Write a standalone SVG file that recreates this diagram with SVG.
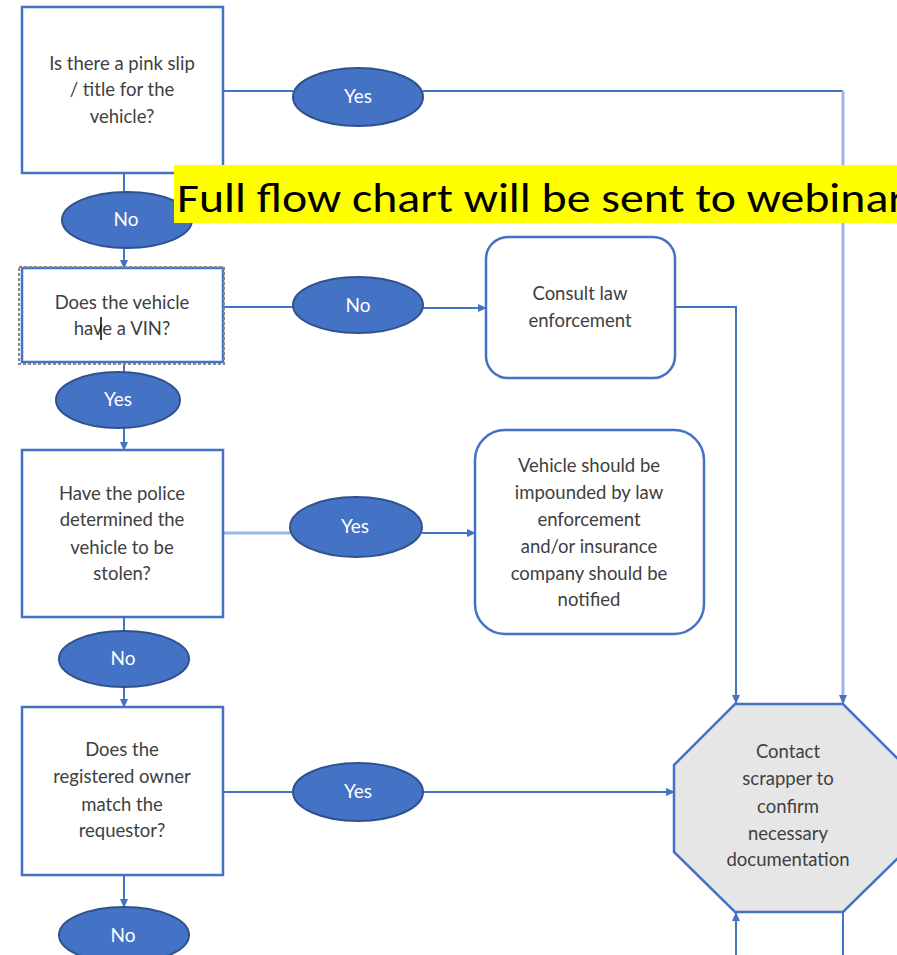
<svg xmlns="http://www.w3.org/2000/svg" width="897" height="955" viewBox="0 0 897 955">
<defs>
<marker id="arr" markerUnits="userSpaceOnUse" markerWidth="9" markerHeight="8" refX="8" refY="4" orient="auto">
<path d="M0,0 L9,4 L0,8 z" fill="#4472C4"/>
</marker>
</defs>
<style>
.box{fill:#fff;stroke:#4472C4;stroke-width:2.5}
.oval{fill:#4472C4;stroke:#2F528F;stroke-width:2}
.oct{fill:#E7E6E6;stroke:#4472C4;stroke-width:2.5}
.ln{fill:none;stroke:#4472C4;stroke-width:2}
.lt{fill:none;stroke:#9DB5E2;stroke-width:3}
.t{font-family:Lato,"Liberation Sans",sans-serif;font-size:18.5px;fill:#404040;text-anchor:middle}
.o{font-family:Lato,"Liberation Sans",sans-serif;font-size:19px;fill:#fff;text-anchor:middle}
.ban{font-family:Carlito,Lato,"Open Sans",sans-serif;font-size:40px;fill:#000}
</style>
<rect width="897" height="955" fill="#fff"/>
<g id="connectors">
<path class="ln" d="M223,91 H293"/>
<path class="ln" d="M423,91 H843"/>
<path class="lt" d="M843,91 V703" marker-end="url(#arr)"/>
<path class="ln" d="M124,173 V192"/>
<path class="ln" d="M124,248 V268" marker-end="url(#arr)"/>
<path class="ln" d="M223,307 H293"/>
<path class="ln" d="M423,308 H486" marker-end="url(#arr)"/>
<path class="ln" d="M675,307 H736 V703" marker-end="url(#arr)"/>
<path class="ln" d="M124,363 V373"/>
<path class="ln" d="M124,428 V450" marker-end="url(#arr)"/>
<path class="lt" d="M223,533 H290"/>
<path class="ln" d="M422,533 H475" marker-end="url(#arr)"/>
<path class="ln" d="M124,617 V632"/>
<path class="ln" d="M124,687 V707" marker-end="url(#arr)"/>
<path class="ln" d="M223,792 H293"/>
<path class="ln" d="M423,792 H674" marker-end="url(#arr)"/>
<path class="ln" d="M124,875 V907" marker-end="url(#arr)"/>
<path class="ln" d="M736,955 V913" marker-end="url(#arr)"/>
<path class="ln" d="M843,912 V955"/>
</g>
<g id="q1">
<rect class="box" x="22" y="7" width="201" height="166"/>
<text class="t" x="122" y="70">Is there a pink slip</text>
<text class="t" x="122" y="96">/ title for the</text>
<text class="t" x="122" y="123">vehicle?</text>
</g>
<g id="yes1">
<ellipse class="oval" cx="358" cy="97" rx="65" ry="29"/>
<text class="o" x="358" y="103">Yes</text>
</g>
<g id="no1">
<ellipse class="oval" cx="127" cy="220" rx="65" ry="28"/>
<text class="o" x="126" y="226">No</text>
</g>
<g id="q2">
<rect class="box" x="22" y="268" width="201" height="94"/>
<rect x="19" y="267" width="205" height="97" fill="none" stroke="#888" stroke-width="2" stroke-dasharray="3,2"/>
<text class="t" x="122" y="309">Does the vehicle</text>
<text class="t" x="122" y="335">have a VIN?</text>
<path d="M101,317 V340" stroke="#000" stroke-width="1.5"/>
</g>
<g id="no2">
<ellipse class="oval" cx="358" cy="305" rx="65" ry="28"/>
<text class="o" x="358" y="312">No</text>
</g>
<g id="consult">
<rect class="box" x="486" y="237" width="189" height="141" rx="22"/>
<text class="t" x="580" y="300">Consult law</text>
<text class="t" x="580" y="327">enforcement</text>
</g>
<g id="yes3">
<ellipse class="oval" cx="118" cy="400" rx="62" ry="28"/>
<text class="o" x="118" y="406">Yes</text>
</g>
<g id="q3">
<rect class="box" x="22" y="450" width="201" height="167"/>
<text class="t" x="122" y="500">Have the police</text>
<text class="t" x="122" y="526">determined the</text>
<text class="t" x="122" y="554">vehicle to be</text>
<text class="t" x="122" y="580">stolen?</text>
</g>
<g id="yes4">
<ellipse class="oval" cx="356" cy="527" rx="66" ry="30"/>
<text class="o" x="355" y="533">Yes</text>
</g>
<g id="impound">
<rect class="box" x="475" y="430" width="229" height="204" rx="30"/>
<text class="t" x="589" y="472">Vehicle should be</text>
<text class="t" x="589" y="499">impounded by law</text>
<text class="t" x="589" y="526">enforcement</text>
<text class="t" x="589" y="553">and/or insurance</text>
<text class="t" x="589" y="580">company should be</text>
<text class="t" x="589" y="606">notified</text>
</g>
<g id="no5">
<ellipse class="oval" cx="124" cy="659" rx="65" ry="28"/>
<text class="o" x="123" y="665">No</text>
</g>
<g id="q4">
<rect class="box" x="22" y="707" width="201" height="168"/>
<text class="t" x="122" y="756">Does the</text>
<text class="t" x="122" y="783">registered owner</text>
<text class="t" x="122" y="811">match the</text>
<text class="t" x="122" y="837">requestor?</text>
</g>
<g id="yes6">
<ellipse class="oval" cx="358" cy="792" rx="65" ry="29"/>
<text class="o" x="358" y="798">Yes</text>
</g>
<g id="no7">
<ellipse class="oval" cx="124" cy="935" rx="65" ry="28"/>
<text class="o" x="123" y="942">No</text>
</g>
<g id="contact">
<polygon class="oct" points="735,704 843,704 904,765 904,852 843,912 735,912 674,852 674,765"/>
<text class="t" x="788" y="758">Contact</text>
<text class="t" x="788" y="785">scrapper to</text>
<text class="t" x="788" y="813">confirm</text>
<text class="t" x="788" y="840">necessary</text>
<text class="t" x="788" y="866">documentation</text>
</g>
<g id="banner">
<rect x="174" y="165" width="723" height="58" fill="#FFFF00"/>
<text class="ban" x="177" y="212" textLength="728" lengthAdjust="spacingAndGlyphs">Full flow chart will be sent to webinar</text>
</g>
</svg>
